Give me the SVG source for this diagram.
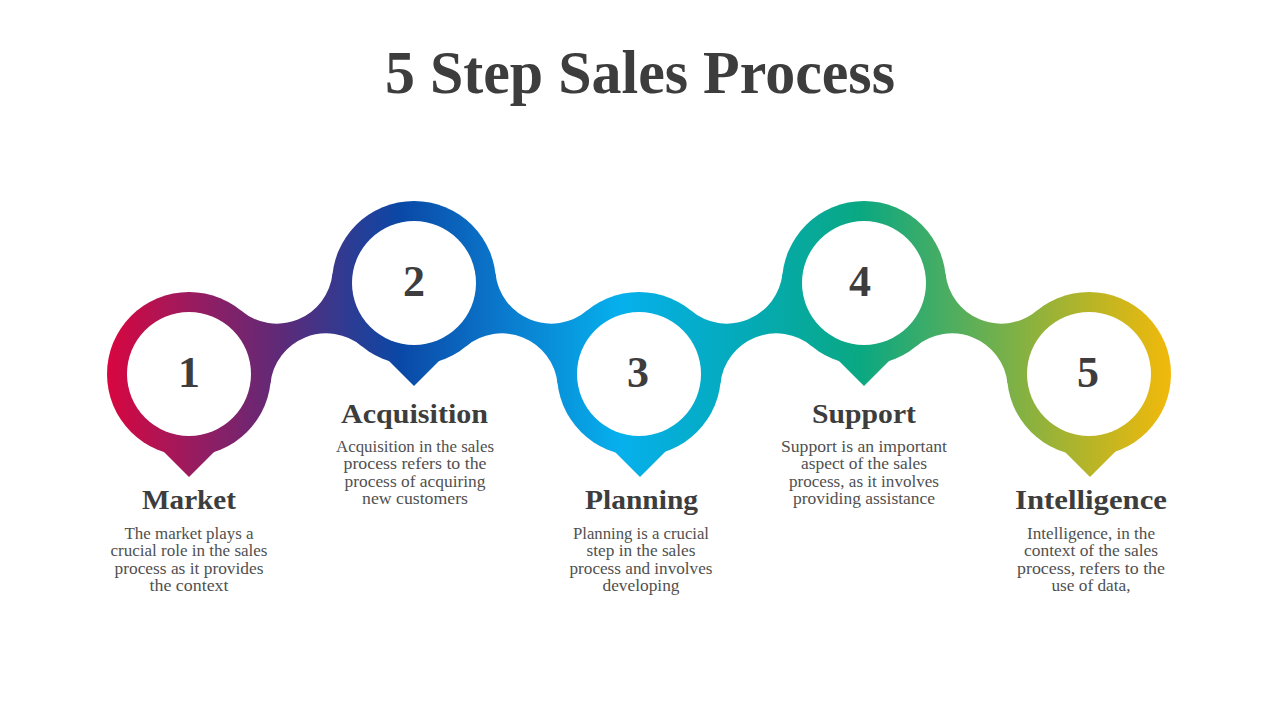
<svg xmlns="http://www.w3.org/2000/svg" width="1280" height="720" viewBox="0 0 1280 720">
  <defs>
    <linearGradient id="rib" gradientUnits="userSpaceOnUse" x1="107" y1="0" x2="1171" y2="0">
      <stop offset="0" stop-color="#d8063f"/>
      <stop offset="0.078" stop-color="#9b1b5f"/>
      <stop offset="0.163" stop-color="#5e2a78"/>
      <stop offset="0.275" stop-color="#0a48a6"/>
      <stop offset="0.369" stop-color="#0a78cc"/>
      <stop offset="0.482" stop-color="#06b0ec"/>
      <stop offset="0.604" stop-color="#04aab5"/>
      <stop offset="0.708" stop-color="#0aa882"/>
      <stop offset="0.802" stop-color="#55ae5c"/>
      <stop offset="0.914" stop-color="#b0b42b"/>
      <stop offset="1" stop-color="#f2b90a"/>
    </linearGradient>
    <style>
      .rib { fill: url(#rib); }
      .hole { fill: #ffffff; }
      .title { font-family: "Liberation Serif", "DejaVu Serif", serif; font-weight: bold; font-size: 62px; fill: #3d3d3d; text-anchor: middle; }
      .num { font-family: "Liberation Serif", "DejaVu Serif", serif; font-weight: bold; font-size: 44px; fill: #3d3d3d; text-anchor: middle; }
      .head { font-family: "Liberation Serif", "DejaVu Serif", serif; font-weight: bold; font-size: 27px; fill: #3d3d3d; text-anchor: middle; }
      .body { font-family: "Liberation Serif", "DejaVu Serif", serif; font-size: 16px; fill: #505050; text-anchor: middle; }
    </style>
  </defs>

  <rect width="1280" height="720" fill="#ffffff"/>

  <text class="title" x="640" y="93" textLength="510" lengthAdjust="spacingAndGlyphs">5 Step Sales Process</text>

  <g id="connectors">
    <path class="rib" d="M241.2,310.8 A56,56 0 0 0 332.5,273.85 L414,283 L361.8,346.2 A56,56 0 0 0 270.5,383.15 L189,374 Z"/>
    <path class="rib" d="M586.8,310.8 A56,56 0 0 1 495.5,273.85 L414,283 L466.2,346.2 A56,56 0 0 1 557.5,383.15 L639,374 Z"/>
    <path class="rib" d="M691.2,310.8 A56,56 0 0 0 782.5,273.85 L864,283 L811.8,346.2 A56,56 0 0 0 720.5,383.15 L639,374 Z"/>
    <path class="rib" d="M1036.8,310.8 A56,56 0 0 1 945.5,273.85 L864,283 L916.2,346.2 A56,56 0 0 1 1007.5,383.15 L1089,374 Z"/>
  </g>

  <g id="step1">
    <circle class="rib" cx="189" cy="374" r="82"/>
    <polygon class="rib" points="189,477 149,437 189,394 229,437"/>
    <circle class="hole" cx="189" cy="374" r="62"/>
    <text class="num" x="189" y="387">1</text>
    <text class="head" x="189" y="509" textLength="94" lengthAdjust="spacingAndGlyphs">Market</text>
    <text class="body" x="189" y="538.5" textLength="129" lengthAdjust="spacingAndGlyphs">The market plays a</text>
    <text class="body" x="189" y="556" textLength="157" lengthAdjust="spacingAndGlyphs">crucial role in the sales</text>
    <text class="body" x="189" y="573.5" textLength="149" lengthAdjust="spacingAndGlyphs">process as it provides</text>
    <text class="body" x="189" y="591" textLength="79" lengthAdjust="spacingAndGlyphs">the context</text>
  </g>

  <g id="step2">
    <circle class="rib" cx="414" cy="283" r="82"/>
    <polygon class="rib" points="414,386 374,346 414,303 454,346"/>
    <circle class="hole" cx="414" cy="283" r="62"/>
    <text class="num" x="414" y="296">2</text>
    <text class="head" x="414.5" y="423" textLength="147" lengthAdjust="spacingAndGlyphs">Acquisition</text>
    <text class="body" x="415" y="451.5" textLength="158" lengthAdjust="spacingAndGlyphs">Acquisition in the sales</text>
    <text class="body" x="415" y="469" textLength="143" lengthAdjust="spacingAndGlyphs">process refers to the</text>
    <text class="body" x="415" y="486.5" textLength="141" lengthAdjust="spacingAndGlyphs">process of acquiring</text>
    <text class="body" x="415" y="504" textLength="106" lengthAdjust="spacingAndGlyphs">new customers</text>
  </g>

  <g id="step3">
    <circle class="rib" cx="639" cy="374" r="82"/>
    <polygon class="rib" points="640,477 600,437 640,394 680,437"/>
    <circle class="hole" cx="639" cy="374" r="62"/>
    <text class="num" x="638" y="387">3</text>
    <text class="head" x="641.5" y="509" textLength="113" lengthAdjust="spacingAndGlyphs">Planning</text>
    <text class="body" x="641" y="538.5" textLength="136" lengthAdjust="spacingAndGlyphs">Planning is a crucial</text>
    <text class="body" x="641" y="556" textLength="109" lengthAdjust="spacingAndGlyphs">step in the sales</text>
    <text class="body" x="641" y="573.5" textLength="143" lengthAdjust="spacingAndGlyphs">process and involves</text>
    <text class="body" x="641" y="591" textLength="77" lengthAdjust="spacingAndGlyphs">developing</text>
  </g>

  <g id="step4">
    <circle class="rib" cx="864" cy="283" r="82"/>
    <polygon class="rib" points="864,386 824,346 864,303 904,346"/>
    <circle class="hole" cx="864" cy="283" r="62"/>
    <text class="num" x="860" y="296">4</text>
    <text class="head" x="864" y="423" textLength="104" lengthAdjust="spacingAndGlyphs">Support</text>
    <text class="body" x="864" y="451.5" textLength="166" lengthAdjust="spacingAndGlyphs">Support is an important</text>
    <text class="body" x="864" y="469" textLength="126" lengthAdjust="spacingAndGlyphs">aspect of the sales</text>
    <text class="body" x="864" y="486.5" textLength="150" lengthAdjust="spacingAndGlyphs">process, as it involves</text>
    <text class="body" x="864" y="504" textLength="142" lengthAdjust="spacingAndGlyphs">providing assistance</text>
  </g>

  <g id="step5">
    <circle class="rib" cx="1089" cy="374" r="82"/>
    <polygon class="rib" points="1090,477 1050,437 1090,394 1130,437"/>
    <circle class="hole" cx="1089" cy="374" r="62"/>
    <text class="num" x="1088" y="387">5</text>
    <text class="head" x="1091" y="509" textLength="152" lengthAdjust="spacingAndGlyphs">Intelligence</text>
    <text class="body" x="1091" y="538.5" textLength="128" lengthAdjust="spacingAndGlyphs">Intelligence, in the</text>
    <text class="body" x="1091" y="556" textLength="134" lengthAdjust="spacingAndGlyphs">context of the sales</text>
    <text class="body" x="1091" y="573.5" textLength="148" lengthAdjust="spacingAndGlyphs">process, refers to the</text>
    <text class="body" x="1091" y="591" textLength="79" lengthAdjust="spacingAndGlyphs">use of data,</text>
  </g>
</svg>
